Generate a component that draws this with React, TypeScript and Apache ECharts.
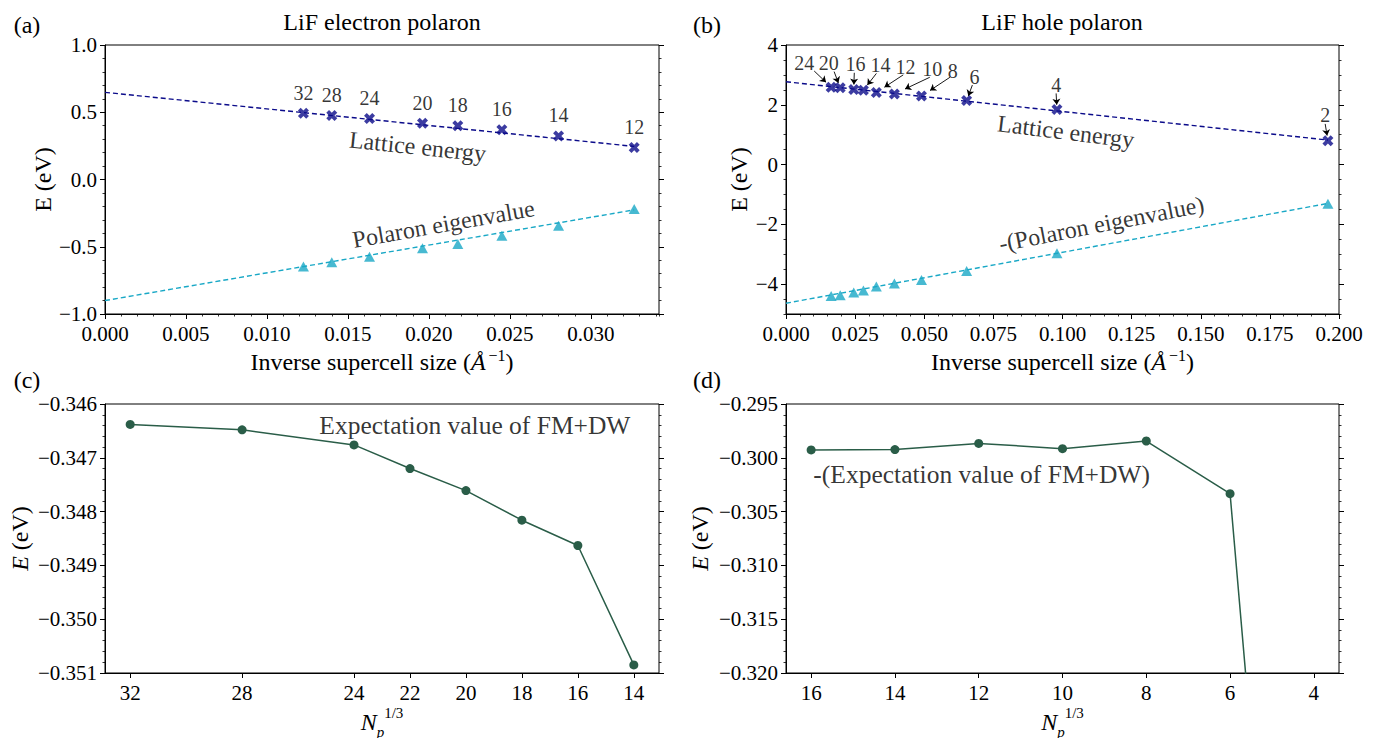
import React, { useEffect, useRef } from "react";
import * as echarts from "echarts";

const FONT = '"Liberation Serif", "Times New Roman", "DejaVu Serif", serif';
const NAVY = "#0b0b8a";
const CYAN = "#19a8c6";
const GREEN = "#2a5d48";

// ---------- Panel (a): LiF electron polaron ----------
const aSizes = ["32", "28", "24", "20", "18", "16", "14", "12"];
const aInvSize = [0.01225, 0.014, 0.01633, 0.0196, 0.02178, 0.0245, 0.028, 0.03267];
const aLattice = [0.493, 0.475, 0.453, 0.418, 0.399, 0.369, 0.324, 0.238];
const aPolaron = [-0.646, -0.616, -0.574, -0.512, -0.48, -0.418, -0.344, -0.22];
const aLatticeFit = [[0, 0.648], [0.03267, 0.246]];
const aPolaronFit = [[0, -0.9], [0.03267, -0.226]];
const aXTicks = [0, 0.005, 0.01, 0.015, 0.02, 0.025, 0.03];
const aYTicks = [-1, -0.5, 0, 0.5, 1];
const aTexts = ["Lattice energy", "Polaron eigenvalue"];
const aTextX = [0.0193, 0.0209];
const aTextY = [0.244, -0.331];

// ---------- Panel (b): LiF hole polaron ----------
const bSizes = ["24", "20", "16", "14", "12", "10", "8", "6", "4", "2"];
const bInvSize = [0.01633, 0.0196, 0.0245, 0.028, 0.03267, 0.0392, 0.049, 0.06533, 0.098, 0.196];
const bLattice = [2.59, 2.57, 2.51, 2.49, 2.41, 2.36, 2.29, 2.14, 1.84, 0.8];
const bPolaron = [-4.4, -4.37, -4.28, -4.21, -4.08, -3.98, -3.86, -3.56, -2.97, -1.31];
const bLatticeFit = [[0, 2.77], [0.196, 0.82]];
const bPolaronFit = [[0, -4.64], [0.196, -1.3]];
const bXTicks = [0, 0.025, 0.05, 0.075, 0.1, 0.125, 0.15, 0.175, 0.2];
const bYTicks = [-4, -2, 0, 2, 4];
const bLabelX = [0.0066, 0.0155, 0.0251, 0.0342, 0.0432, 0.0529, 0.0603, 0.0682, 0.0977, 0.195];
const bLabelY = [3.41, 3.41, 3.35, 3.33, 3.27, 3.19, 3.14, 2.94, 2.66, 1.66];
const bArrowTailX = [0.0102, 0.0174, 0.0247, 0.0327, 0.0424, 0.052, 0.0593, 0.0674, 0.0977, 0.195];
const bArrowTailY = [3.13, 3.11, 3.07, 3.05, 3.0, 2.92, 2.92, 2.66, 2.38, 1.36];
const bTexts = ["Lattice energy", "-(Polaron eigenvalue)"];
const bTextX = [0.1012, 0.1141];
const bTextY = [1.1, -1.99];

// ---------- Panel (c) ----------
const cSizes = [32, 28, 24, 22, 20, 18, 16, 14];
const cEnergy = [-0.34638, -0.34648, -0.34676, -0.3472, -0.34761, -0.34816, -0.34863, -0.35085];
const cXTicks = [32, 28, 24, 22, 20, 18, 16, 14];
const cYTicks = [-0.351, -0.35, -0.349, -0.348, -0.347, -0.346];
const cText = "Expectation value of FM+DW";
const cTextPos = [19.68, -0.3464];

// ---------- Panel (d) ----------
const dSizes = [16, 14, 12, 10, 8, 6, 4];
const dEnergy = [-0.29927, -0.29924, -0.29866, -0.29915, -0.29844, -0.30333, -0.3934];
const dXTicks = [16, 14, 12, 10, 8, 6, 4];
const dYTicks = [-0.32, -0.315, -0.31, -0.305, -0.3, -0.295];
const dText = "-(Expectation value of FM+DW)";
const dTextPos = [11.93, -0.30157];

const X_SYMBOL =
  "path://M0,2.5 L2.5,0 L5,2.5 L7.5,0 L10,2.5 L7.5,5 L10,7.5 L7.5,10 L5,7.5 L2.5,10 L0,7.5 L2.5,5 Z";

const fmt = (d: number) => (v: any) => {
  const n = Number(v);
  let s = (Math.abs(n) < 1e-12 ? 0 : n).toFixed(d);
  return s.replace("-", "\u2212");
};

const rich = {
  n: { fontSize: 24, fontFamily: FONT, color: "#000", lineHeight: 30 },
  i: { fontSize: 24, fontFamily: FONT, fontStyle: "italic", color: "#000", lineHeight: 30 },
  ni: { fontSize: 24, fontFamily: FONT, fontStyle: "italic", color: "#000", lineHeight: 34 },
  sup: { fontSize: 15, fontFamily: FONT, color: "#000", lineHeight: 14, verticalAlign: "top" },
  supg: { fontSize: 16, fontFamily: FONT, color: "#000", lineHeight: 16, verticalAlign: "top", padding: [0, 0, 0, 3] },
  sub: { fontSize: 15, fontFamily: FONT, fontStyle: "italic", color: "#000", lineHeight: 14, verticalAlign: "bottom" },
};

function mainX(gridIndex: number, min: number, max: number, ticks: number[], f: any, inverse: boolean, name: string, nameGap: number) {
  return {
    type: "value", gridIndex, min, max, inverse, position: "bottom",
    axisLine: { show: true, onZero: false, lineStyle: { color: "#000", width: 1 } },
    axisTick: { show: true, inside: false, length: 5, customValues: ticks, lineStyle: { color: "#000", width: 1 } },
    axisLabel: { show: true, customValues: ticks, formatter: f, margin: 9, fontSize: 21, fontFamily: FONT, color: "#000" },
    splitLine: { show: false },
    name, nameLocation: "middle", nameGap,
    nameTextStyle: { rich, fontFamily: FONT, color: "#000", fontSize: 24 },
  };
}
function mainY(gridIndex: number, min: number, max: number, ticks: number[], f: any, name: string, nameGap: number) {
  return {
    type: "value", gridIndex, min, max, position: "left",
    axisLine: { show: true, onZero: false, lineStyle: { color: "#000", width: 1 } },
    axisTick: { show: true, inside: false, length: 5, customValues: ticks, lineStyle: { color: "#000", width: 1 } },
    axisLabel: { show: true, customValues: ticks, formatter: f, margin: 8, fontSize: 21, fontFamily: FONT, color: "#000" },
    splitLine: { show: false },
    name, nameLocation: "middle", nameGap, nameRotate: 90,
    nameTextStyle: { rich, fontFamily: FONT, color: "#000", fontSize: 24 },
  };
}
function rightMajorY(gridIndex: number, min: number, max: number, ticks: number[]) {
  return {
    type: "value", gridIndex, min, max, position: "right",
    axisLine: { show: false, onZero: false },
    axisTick: { show: true, inside: false, length: 5, customValues: ticks, lineStyle: { color: "#000", width: 1 } },
    axisLabel: { show: false },
    splitLine: { show: false },
  };
}
function minorAxis(gridIndex: number, min: number, max: number, interval: number, position: string, inverse = false) {
  return {
    type: "value", gridIndex, min, max, interval, position, inverse,
    axisLine: { show: false, onZero: false },
    axisTick: { show: true, inside: false, length: 2.5, lineStyle: { color: "#000", width: 0.8 } },
    axisLabel: { show: false },
    splitLine: { show: false },
  };
}

function textSeries(xi: number, yi: number, texts: string[], xs: number[], ys: number[], rot: number[], fontSize: number) {
  return texts.map((t, k) => ({
    type: "scatter", xAxisIndex: xi, yAxisIndex: yi, silent: true, z: 5,
    symbolSize: 1, itemStyle: { color: "transparent" },
    label: { show: true, position: "inside", formatter: "{b}", rotate: rot[k], fontSize, fontFamily: FONT, color: "#000" },
    data: [{ name: t, value: [xs[k], ys[k]] }],
  }));
}

function buildOption() {
  const grids = [
    { left: 105, top: 45, width: 554, height: 269 },
    { left: 786, top: 45, width: 553, height: 269 },
    { left: 105, top: 404, width: 554, height: 269 },
    { left: 786, top: 404, width: 553, height: 269 },
  ].map((g) => ({ ...g, show: true, borderColor: "#000", borderWidth: 1, backgroundColor: "transparent", containLabel: false, outerBoundsMode: "none" }));

  const xName = "{n|Inverse supercell size (}{i|Å}{supg|\u22121}{n|)}";
  const npName = "{ni|N}{sub|p}{sup|1/3}";

  const xAxis = [
    mainX(0, 0, 0.0342, aXTicks, fmt(3), false, xName, 33), // 0
    minorAxis(0, 0, 0.0342, 0.001, "bottom"), // 1
    mainX(1, 0, 0.2, bXTicks, fmt(3), false, xName, 33), // 2
    minorAxis(1, 0, 0.2, 0.005, "bottom"), // 3
    mainX(2, 13.1, 32.9, cXTicks, fmt(0), true, npName, 32), // 4
    mainX(3, 3.4, 16.6, dXTicks, fmt(0), true, npName, 32), // 5
  ];
  const yAxis = [
    mainY(0, -1, 1, aYTicks, fmt(1), "{n|E (eV)}", 47), // 0
    minorAxis(0, -1, 1, 0.1, "left"), // 1
    rightMajorY(0, -1, 1, aYTicks), // 2
    minorAxis(0, -1, 1, 0.1, "right"), // 3
    mainY(1, -5, 4, bYTicks, fmt(0), "{n|E (eV)}", 32), // 4
    minorAxis(1, -5, 4, 0.5, "left"), // 5
    rightMajorY(1, -5, 4, bYTicks), // 6
    minorAxis(1, -5, 4, 0.5, "right"), // 7
    mainY(2, -0.351, -0.346, cYTicks, fmt(3), "{i|E}{n| (eV)}", 70), // 8
    minorAxis(2, -0.351, -0.346, 0.0002, "left"), // 9
    rightMajorY(2, -0.351, -0.346, cYTicks), // 10
    minorAxis(2, -0.351, -0.346, 0.0002, "right"), // 11
    mainY(3, -0.32, -0.295, dYTicks, fmt(3), "{i|E}{n| (eV)}", 71), // 12
    minorAxis(3, -0.32, -0.295, 0.001, "left"), // 13
    rightMajorY(3, -0.32, -0.295, dYTicks), // 14
    minorAxis(3, -0.32, -0.295, 0.001, "right"), // 15
  ];

  const dashed = (color: string) => ({ color, width: 1.4, type: [5, 3] as any });
  const fitLine = (xi: number, yi: number, data: number[][], color: string) => ({
    type: "line", xAxisIndex: xi, yAxisIndex: yi, data, symbol: "none", silent: true,
    lineStyle: dashed(color), z: 2,
  });

  const arrows = bSizes.map((_, i) => {
    const px = bInvSize[i], py = bLattice[i];
    const tx = bArrowTailX[i], ty = bArrowTailY[i];
    const hx = px + (tx - px) * 0.3, hy = py + (ty - py) * 0.3;
    return { coords: [[tx, ty], [hx, hy]] };
  });

  const series: any[] = [
    // (a)
    fitLine(0, 0, aLatticeFit, NAVY),
    fitLine(0, 0, aPolaronFit, CYAN),
    {
      type: "scatter", xAxisIndex: 0, yAxisIndex: 0, symbol: X_SYMBOL, symbolSize: 11, silent: true, z: 3,
      itemStyle: { color: NAVY },
      label: { show: true, position: "top", distance: 5, formatter: "{b}", fontSize: 20, fontFamily: FONT, color: "#000" },
      data: aInvSize.map((x, i) => ({ name: aSizes[i], value: [x, aLattice[i]] })),
    },
    {
      type: "scatter", xAxisIndex: 0, yAxisIndex: 0, symbol: "triangle", symbolSize: [11, 10], silent: true, z: 3,
      itemStyle: { color: CYAN },
      data: aInvSize.map((x, i) => [x, aPolaron[i]]),
    },
    ...textSeries(0, 0, aTexts, aTextX, aTextY, [-6, 10], 24),
    // (b)
    fitLine(2, 4, bLatticeFit, NAVY),
    fitLine(2, 4, bPolaronFit, CYAN),
    {
      type: "scatter", xAxisIndex: 2, yAxisIndex: 4, symbol: X_SYMBOL, symbolSize: 11, silent: true, z: 3,
      itemStyle: { color: NAVY },
      data: bInvSize.map((x, i) => [x, bLattice[i]]),
    },
    {
      type: "scatter", xAxisIndex: 2, yAxisIndex: 4, symbol: "triangle", symbolSize: [11, 10], silent: true, z: 3,
      itemStyle: { color: CYAN },
      data: bInvSize.map((x, i) => [x, bPolaron[i]]),
    },
    {
      type: "scatter", xAxisIndex: 2, yAxisIndex: 4, silent: true, z: 5, symbolSize: 1,
      itemStyle: { color: "transparent" },
      label: { show: true, position: "inside", formatter: "{b}", fontSize: 20, fontFamily: FONT, color: "#000" },
      data: bSizes.map((s, i) => ({ name: s, value: [bLabelX[i], bLabelY[i]] })),
    },
    {
      type: "lines", coordinateSystem: "cartesian2d", xAxisIndex: 2, yAxisIndex: 4, silent: true, z: 4,
      symbol: ["none", "arrow"], symbolSize: [0, 6],
      lineStyle: { color: "#000", width: 0.9, opacity: 1, curveness: 0 },
      data: arrows,
    },
    ...textSeries(2, 4, bTexts, bTextX, bTextY, [-7, 11], 24),
    // (c)
    {
      type: "line", xAxisIndex: 4, yAxisIndex: 8, symbol: "circle", symbolSize: 9, silent: true, z: 3,
      itemStyle: { color: GREEN }, lineStyle: { color: GREEN, width: 1.5 },
      data: cSizes.map((x, i) => [x, cEnergy[i]]),
    },
    ...textSeries(4, 8, [cText], [cTextPos[0]], [cTextPos[1]], [0], 25.5),
    // (d)
    {
      type: "line", xAxisIndex: 5, yAxisIndex: 12, symbol: "circle", symbolSize: 9, silent: true, z: 3, clip: true,
      itemStyle: { color: GREEN }, lineStyle: { color: GREEN, width: 1.5 },
      data: dSizes.map((x, i) => [x, dEnergy[i]]),
    },
    ...textSeries(5, 12, [dText], [dTextPos[0]], [dTextPos[1]], [0], 25.5),
  ];

  const gtext = (text: string, x: number, y: number, size: number) => ({
    type: "text", x, y, silent: true,
    style: { text, fontSize: size, fontFamily: FONT, fill: "#000", textAlign: "center", textVerticalAlign: "middle" },
  });

  return {
    animation: false,
    backgroundColor: "#fff",
    grid: grids,
    xAxis,
    yAxis,
    series,
    graphic: [
      gtext("(a)", 27, 25, 24),
      gtext("(b)", 707, 25, 24),
      gtext("(c)", 27, 380, 24),
      gtext("(d)", 707, 380, 24),
      gtext("LiF electron polaron", 382, 22, 24),
      gtext("LiF hole polaron", 1062, 22, 24),
    ],
  };
}

export default function App() {
  const ref = useRef<HTMLDivElement>(null);
  useEffect(() => {
    if (!ref.current) return;
    const chart = echarts.init(ref.current, undefined, { renderer: "svg" });
    chart.setOption(buildOption() as any);
    return () => chart.dispose();
  }, []);
  return (
    <div
      ref={ref}
      style={{ position: "fixed", left: 0, top: 0, width: 1380, height: 738, background: "#fff" }}
    />
  );
}
